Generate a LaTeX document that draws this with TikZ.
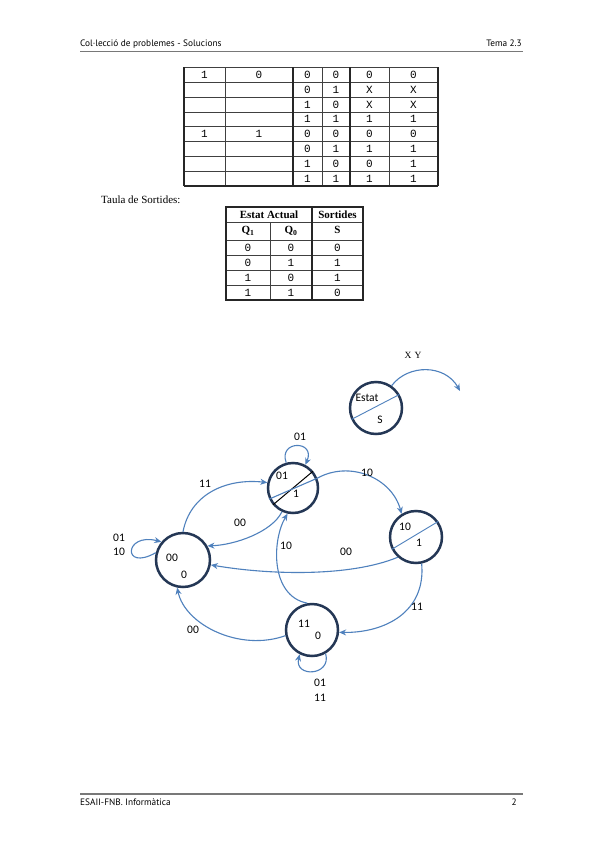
\documentclass[tikz,border=0pt]{standalone}
\usepackage{fontspec}
\setmainfont{Liberation Serif}
\newfontfamily\hdr{PT Sans}
\newfontfamily\dia{Carlito}
\newfontfamily\tmono{Liberation Mono}
\usetikzlibrary{arrows.meta}
\definecolor{arrblue}{RGB}{79,129,189}
\definecolor{navy}{RGB}{36,55,85}
\definecolor{rulegray}{RGB}{120,120,120}
\begin{document}
\begin{tikzpicture}[x=1pt,y=1pt,
  hdrtext/.style={font=\hdr\fontsize{9.3}{10}\selectfont, inner sep=0},
  tcell/.style={font=\tmono\fontsize{11}{12}\selectfont, inner sep=0},
  thead/.style={font=\bfseries\fontsize{11}{12}\selectfont, inner sep=0},
  thin rule/.style={line width=0.7pt, draw=black!75},
  thick rule/.style={line width=1.4pt, draw=black!85},
  state/.style={circle, draw=navy, line width=2.5pt, minimum size=#1, inner sep=0},
  tr/.style={draw=arrblue, line width=1.1pt, -{Stealth[length=7pt,width=6pt]}},
  lbl/.style={font=\dia\fontsize{11.5}{13}\selectfont, inner sep=0, align=center},
]
\useasboundingbox (0,0) rectangle (600,-848);
\fill[white] (0,0) rectangle (600,-848);

% header / footer
\node[hdrtext, anchor=base west] (hl) at (80,-47) {Col·lecció de problemes - Solucions};
\node[hdrtext, anchor=base east] (hr) at (522,-47) {Tema 2.3};
\draw[rulegray, line width=1.3pt] (80,-51.5) -- (523,-51.5);
\draw[rulegray, line width=1.3pt] (80,-794) -- (523,-794);
\node[hdrtext, anchor=base west] (fl) at (80,-805) {ESAII-FNB. Informàtica};
\node[hdrtext, anchor=base east] (fr) at (517,-805) {2};

% ---------- top table ----------
\foreach \i in {1,...,7} {
  \draw[thin rule] (184,{-67.5-14.8*\i}) -- (438,{-67.5-14.8*\i});
}
\draw[thin rule] (184,-67.5) -- (438,-67.5);
\foreach \xx in {225,322,389} { \draw[thin rule] (\xx,-67.5) -- (\xx,-186); }
\foreach \xx in {184,293,350,438} { \draw[thick rule] (\xx,-67.5) -- (\xx,-186); }
\draw[thick rule] (184,-186) -- (438,-186);
\foreach \r/\a/\b/\c/\d/\e/\f in {1/1/0/0/0/0/0, 2/{}/{}/0/1/X/X, 3/{}/{}/1/0/X/X, 4/{}/{}/1/1/1/1,
  5/1/1/0/0/0/0, 6/{}/{}/0/1/1/1, 7/{}/{}/1/0/0/1, 8/{}/{}/1/1/1/1} {
  \pgfmathsetmacro{\yy}{-67.5-14.8*(\r-0.5)}
  \node[tcell] (ta\r) at (204.5,\yy) {\a};
  \node[tcell] (tb\r) at (259,\yy) {\b};
  \node[tcell] (tc\r) at (307.5,\yy) {\c};
  \node[tcell] (td\r) at (336,\yy) {\d};
  \node[tcell] (te\r) at (369.5,\yy) {\e};
  \node[tcell] (tf\r) at (413.5,\yy) {\f};
}

% ---------- output table ----------
\node[anchor=base west, inner sep=0, font=\fontsize{11}{12}\selectfont] (taula) at (101,-203) {Taula de Sortides:};
\foreach \yy in {-222,-240,-255,-270,-285} { \draw[thin rule] (226,\yy) -- (363,\yy); }
\draw[thin rule] (270,-222) -- (270,-300);
\draw[thick rule] (312,-207) -- (312,-300);
\draw[thick rule] (226,-207) rectangle (363,-300);
\node[thead] (h1) at (269,-214.5) {Estat Actual};
\node[thead] (h2) at (337.5,-214.5) {Sortides};
\node[thead] (q1) at (248,-231) {Q$_{\mathbf 1}$};
\node[thead] (q0) at (291,-231) {Q$_{\mathbf 0}$};
\node[thead] (hs) at (337.5,-230) {S};
\foreach \r/\a/\b/\c in {1/0/0/0, 2/0/1/1, 3/1/0/1, 4/1/1/0} {
  \pgfmathsetmacro{\yy}{-240-15*(\r-0.5)}
  \node[tcell] (sa\r) at (248,\yy) {\a};
  \node[tcell] (sb\r) at (291,\yy) {\b};
  \node[tcell] (sc\r) at (337.5,\yy) {\c};
}

% ---------- legend ----------
\node[state=52pt] (leg) at (376,-408) {};
\draw[arrblue, line width=0.9pt] (leg.205) -- (leg.30);
\node[lbl] (legE) at (367,-398) {Estat};
\node[lbl] (legS) at (380,-420) {S};
\coordinate (legend end) at (460,-391);
\draw[tr] (leg.55) .. controls (408,-364) and (445,-364) .. (legend end);
\node[font=\fontsize{9.5}{10}\selectfont, inner sep=0] (xy) at (413,-355) {X\,\,Y};

% ---------- states ----------
\node[state=50pt] (n01) at (293,-488) {};
\node[state=54pt] (n00) at (183,-560) {};
\node[state=52pt] (n10) at (416,-537) {};
\node[state=52pt] (n11) at (312,-630) {};

\draw[black, line width=1pt] (n01.220) -- (n01.40);
\draw[arrblue, line width=0.9pt] (n10.207) -- (n10.35);

\node[lbl] (s01a) at (282,-476) {01};
\node[lbl] (s01b) at (296,-494) {1};
\node[lbl] (s00a) at (172,-558) {00};
\node[lbl] (s00b) at (184,-575) {0};
\node[lbl] (s10a) at (405,-527) {10};
\node[lbl] (s10b) at (419,-543) {1};
\node[lbl] (s11a) at (304,-624) {11};
\node[lbl] (s11b) at (318,-636) {0};

% ---------- transitions ----------
\draw[tr] (n00.90) .. controls (190,-495) and (225,-478) .. (n01.168);
\draw[tr] (n01.245) .. controls (272,-532) and (235,-545) .. (n00.30);
\draw[tr] (n01.205) -- (n01.22) .. controls (350,-460) and (392,-478) .. (n10.122);
\draw[tr] (n10.228) .. controls (350,-577) and (270,-575) .. (n00.350);
\draw[tr] (n10.282) .. controls (426,-612) and (385,-633) .. (n11.355);
\draw[tr] (n11.100) .. controls (270,-596) and (272,-540) .. (n01.258);
\draw[tr] (n11.192) .. controls (240,-652) and (185,-625) .. (n00.258);
% self loops
\draw[tr] (n01.105) .. controls (278,-440) and (316,-440) .. (n01.62);
\draw[tr] (n00.165) .. controls (122,-572) and (124,-532) .. (n00.140);
\draw[tr] (n11.300) .. controls (332,-676) and (294,-678) .. (n11.243);

% ---------- labels ----------
\node[lbl] (l1) at (205,-484) {11};
\node[lbl] (l2) at (240,-523) {00};
\node[lbl] (l3) at (367,-473) {10};
\node[lbl] (l4) at (346,-552) {00};
\node[lbl] (l5) at (417,-607) {11};
\node[lbl] (l6) at (286,-546) {10};
\node[lbl] (l7) at (193,-630) {00};
\node[lbl] (l8) at (300,-437) {01};
\node[lbl, font=\dia\fontsize{11.5}{14}\selectfont] (l9) at (119,-545) {01\\10};
\node[lbl, font=\dia\fontsize{11.5}{15}\selectfont] (l10) at (320,-690) {01\\11};
\end{tikzpicture}
\end{document}
